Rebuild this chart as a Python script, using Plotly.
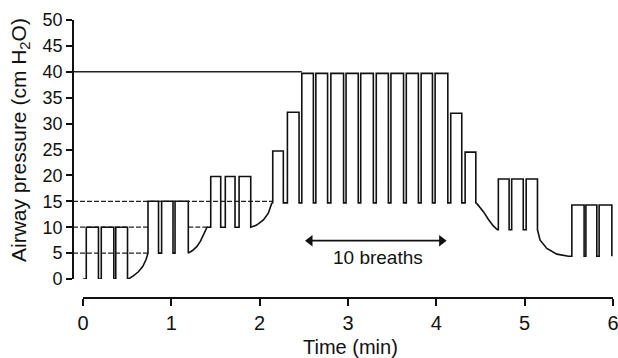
import plotly.graph_objects as go

# ---------------- data ----------------
# Each breath: start time (min), end time (min), peak pressure, baseline pressure (cm H2O)
breath_start = [0.037, 0.207, 0.371,
                0.736, 0.890, 1.042,
                1.446, 1.611, 1.767,
                2.148, 2.314,
                2.477, 2.636, 2.806, 2.978, 3.144, 3.320, 3.486, 3.660, 3.828, 3.986,
                4.163, 4.326,
                4.702, 4.853, 5.017,
                5.534, 5.693, 5.843]
breath_end = [0.175, 0.349, 0.504,
              0.855, 1.019, 1.192,
              1.559, 1.721, 1.899,
              2.268, 2.446,
              2.608, 2.769, 2.950, 3.116, 3.287, 3.457, 3.629, 3.797, 3.956, 4.130,
              4.288, 4.447,
              4.824, 4.984, 5.145,
              5.673, 5.817, 5.987]
breath_peak = [10, 10, 10,
               15, 15, 15,
               19.8, 19.8, 19.8,
               24.7, 32.2,
               39.7, 39.7, 39.7, 39.7, 39.7, 39.7, 39.7, 39.7, 39.7, 39.7,
               32.0, 24.5,
               19.3, 19.3, 19.3,
               14.3, 14.3, 14.3]
breath_base = [0, 0, 0,
               5, 5, 5,
               10, 10, 10,
               14.7, 14.7,
               14.7, 14.7, 14.7, 14.7, 14.7, 14.7, 14.7, 14.7, 14.7, 14.7,
               14.7, 14.7,
               9.5, 9.5, 9.5,
               4.4, 4.4, 4.4]

# Baseline transitions after a PEEP change (keyed by the breath they follow)
curve1_t = [0.504, 0.514, 0.570, 0.627, 0.676, 0.713, 0.736]
curve1_p = [0.0, 0.0, 0.6, 1.4, 2.4, 3.7, 5.0]
curve2_t = [1.192, 1.240, 1.290, 1.330, 1.370, 1.404, 1.446]
curve2_p = [5.0, 5.5, 6.3, 7.3, 8.6, 10.0, 10.0]
curve3_t = [1.899, 1.966, 2.042, 2.098, 2.136, 2.148]
curve3_p = [10.0, 10.4, 11.4, 12.7, 14.6, 14.7]
curve4_t = [4.447, 4.462, 4.488, 4.533, 4.590, 4.647, 4.692, 4.702]
curve4_p = [14.7, 14.5, 14.0, 13.0, 11.5, 10.2, 9.5, 9.5]
curve5_t = [5.145, 5.175, 5.251, 5.364, 5.496, 5.534]
curve5_p = [9.5, 7.5, 5.9, 4.8, 4.4, 4.4]
transitions = {2: (curve1_t, curve1_p), 5: (curve2_t, curve2_p), 8: (curve3_t, curve3_p),
               22: (curve4_t, curve4_p), 25: (curve5_t, curve5_p)}

trace_start_t = [0.0]
trace_start_p = [0.0]

# Horizontal pressure reference lines: level, from, to (min)
ref_level = [40, 15, 10, 10, 5]
ref_from = [-0.113, -0.113, -0.113, 1.192, -0.113]
ref_to = [2.477, 2.148, 0.736, 1.446, 0.736]

# "10 breaths" span (min) and its pressure level
span_t = [2.57, 4.06]
span_p = [7.4, 7.4]

y_ticks = [0, 5, 10, 15, 20, 25, 30, 35, 40, 45, 50]
x_ticks = [0, 1, 2, 3, 4, 5, 6]

# ---------------- build waveform ----------------
wt = list(trace_start_t)
wp = list(trace_start_p)
for i in range(len(breath_start)):
    s, e, pk, b = breath_start[i], breath_end[i], breath_peak[i], breath_base[i]
    wt += [s, s, e, e]
    wp += [b, pk, pk, b]
    if i in transitions:
        ct, cp = transitions[i]
        wt += ct
        wp += cp

FONT = "Liberation Sans, Arial, Helvetica, sans-serif"
INK = "#111111"

fig = go.Figure()

for lv, a, b in zip(ref_level, ref_from, ref_to):
    fig.add_trace(go.Scatter(
        x=[a, b], y=[lv, lv], mode="lines",
        line=dict(color="#222222", width=1.5 if lv == 40 else 1.2,
                  dash="solid" if lv == 40 else "5px,2px"),
        hoverinfo="skip", showlegend=False))

fig.add_trace(go.Scatter(x=wt, y=wp, mode="lines",
                         line=dict(color=INK, width=1.6),
                         showlegend=False))

# double-headed arrow for "10 breaths"
fig.add_trace(go.Scatter(x=span_t, y=span_p, mode="lines+markers",
                         line=dict(color=INK, width=1.6),
                         marker=dict(symbol=["triangle-left", "triangle-right"], size=10,
                                     color=INK, line=dict(width=0)),
                         hoverinfo="skip", showlegend=False))

L, R, T, B = 73, 5, 20, 60
W, H = 618, 358
plot_h = H - T - B
ydom0 = (298 - 279) / plot_h

fig.update_layout(
    width=W, height=H,
    margin=dict(l=L, r=R, t=T, b=B, pad=0, autoexpand=False),
    paper_bgcolor="white", plot_bgcolor="white",
    font=dict(family=FONT, color=INK),
    xaxis=dict(range=[-0.1132, 6.0], domain=[0, 1], anchor="free", position=0,
               automargin=False,
               tickvals=x_ticks, ticktext=[str(v) for v in x_ticks],
               ticks="outside", ticklen=7, tickwidth=1.5, tickcolor=INK,
               ticklabeloverflow="allow",
               showline=False, showgrid=False, zeroline=False,
               tickfont=dict(size=20, family=FONT, color=INK)),
    yaxis=dict(range=[0, 50], domain=[ydom0, 1], anchor="free", position=0,
               automargin=False,
               tickvals=y_ticks, ticktext=[str(v) for v in y_ticks],
               ticks="outside", ticklen=6, tickwidth=1.5, tickcolor=INK,
               showline=True, linecolor=INK, linewidth=1.6,
               showgrid=False, zeroline=False,
               tickfont=dict(size=18, family=FONT, color=INK)),
)

# x axis line from 0 to 6 min only
fig.add_shape(type="line", xref="x", yref="paper", x0=x_ticks[0], x1=x_ticks[-1], y0=0, y1=0,
              line=dict(color=INK, width=2))

# axis titles
fig.add_annotation(text="Airway pressure (cm H<sub>2</sub>O)", textangle=-90,
                   xref="paper", yref="paper", x=(20 - L) / (W - L - R), y=(298 - 140) / plot_h,
                   showarrow=False, font=dict(size=21, family=FONT, color=INK),
                   xanchor="center", yanchor="middle")
fig.add_annotation(text="Time (min)", xref="paper", yref="paper",
                   x=(350 - L) / (W - L - R), y=(298 - 347) / plot_h,
                   showarrow=False, font=dict(size=20, family=FONT, color=INK),
                   xanchor="center", yanchor="middle")

fig.add_annotation(x=3.343, y=4.15, xref="x", yref="y", text="10 breaths", showarrow=False,
                   font=dict(size=19, family=FONT, color=INK), xanchor="center", yanchor="middle")

fig.write_html("out.html")
